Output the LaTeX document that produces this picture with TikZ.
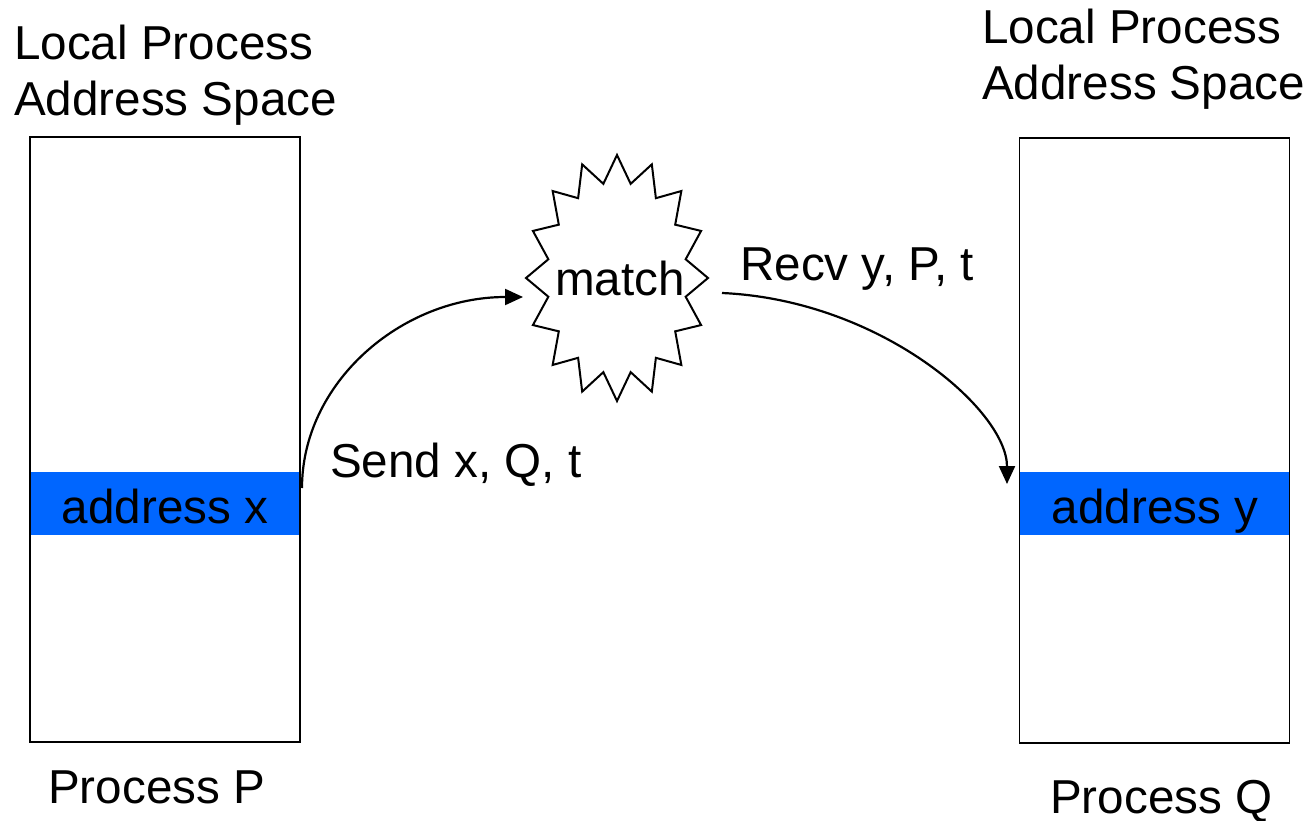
\documentclass[tikz,border=0pt]{standalone}
\usepackage{fontspec}
\setmainfont{Liberation Sans}
\usetikzlibrary{arrows.meta}
\definecolor{bandblue}{RGB}{0,102,255}
\tikzset{
  lbl/.style={inner sep=0pt, font=\fontsize{47.6pt}{56pt}\selectfont},
  space/.style={draw, line width=1.8pt, minimum width=270pt, minimum height=605pt, inner sep=0pt},
  band/.style={fill=bandblue, minimum width=270pt, minimum height=63pt, inner sep=0pt},
  flow/.style={line width=2.2pt, -{Triangle[length=18pt,width=16pt]}},
  burst/.style={line width=2pt, line join=miter}
}
\begin{document}
\begin{tikzpicture}[x=1pt,y=-1pt]
\useasboundingbox (0,0) rectangle (1311,821);

% address spaces of the two processes
\node[band] (bandP) at (165,503.5) {};
\node[band] (bandQ) at (1154.5,503.5) {};
\node[space] (P) at (165,439.5) {};
\node[space] (Q) at (1154.5,440.5) {};
\node[lbl, anchor=base] (ax) at (165,523) {address x};
\node[lbl, anchor=base] (ay) at (1155,523) {address y};

% headings (anchored at the baseline of their last line) and captions
\node[lbl, anchor=base west, align=left] (headP) at (14,116) {Local Process\\Address Space};
\node[lbl, anchor=base west, align=left] (headQ) at (982,100) {Local Process\\Address Space};
\node[lbl, anchor=base west] (capP) at (48,803) {Process P};
\node[lbl, anchor=base west] (capQ) at (1050,813) {Process Q};

% the matching step
\draw[burst] plot[domain=0:31, samples=32]
  ({617 + (80.5 + 10.5*cos(180*\x))*cos(90 - 11.25*\x)},
   {278 - (109.5 + 13.5*cos(180*\x))*sin(90 - 11.25*\x)}) -- cycle;
\node[lbl] (match) at (620,278) {match};

% send and receive
\coordinate (sendFrom) at (302,488);
\coordinate (sendTo) at (523,297);
\coordinate (recvFrom) at (722,293);
\coordinate (recvTo) at (1007,484);
\draw[flow] (sendFrom) .. controls (302,383) and (401,297) .. (sendTo);
\draw[flow] (recvFrom) .. controls (880,300) and (1007,410) .. (recvTo);
\node[lbl, anchor=base west] (sendLbl) at (330,477) {Send x, Q, t};
\node[lbl, anchor=base west] (recvLbl) at (740,280) {Recv y, P, t};
\end{tikzpicture}
\end{document}
